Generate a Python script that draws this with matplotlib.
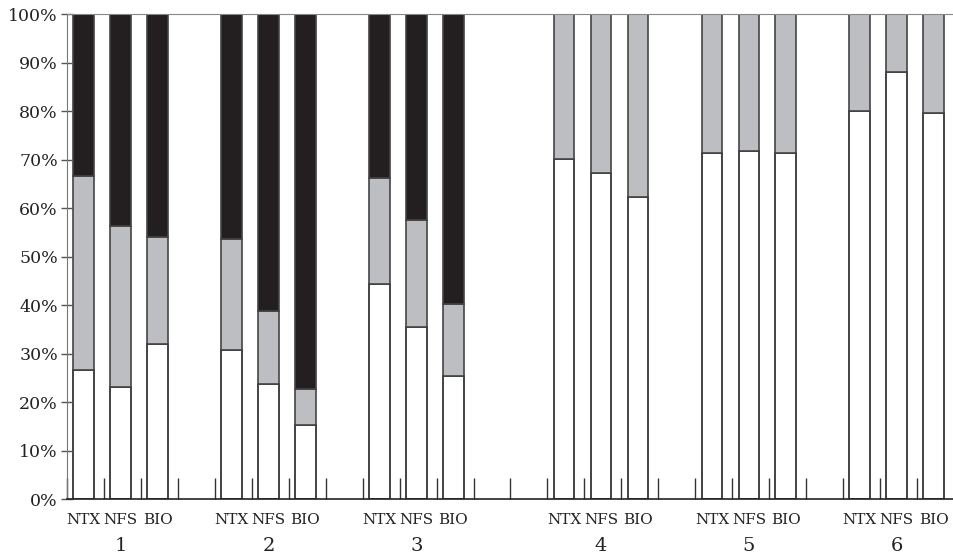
import numpy as np
import matplotlib.pyplot as plt

# share of each segment (%), bottom -> top
groups = ['1', '2', '3', '4', '5', '6']
methods = ['NTX', 'NFS', 'BIO']
white = [26.7, 23.1, 31.9,
         30.8, 23.7, 15.3,
         44.4, 35.4, 25.4,
         70.1, 67.2, 62.4,
         71.5, 71.9, 71.5,
         80.1, 88.2, 79.7]
gray = [40.0, 33.2, 22.2,
        22.8, 15.1, 7.5,
        21.8, 22.2, 14.8,
        29.9, 32.8, 37.6,
        28.5, 28.1, 28.5,
        19.9, 11.8, 20.3]
black = [100 - w - g for w, g in zip(white, gray)]

# slot index of the first bar of each group (one empty slot between groups, two before group 4)
group_start = [0, 4, 8, 13, 17, 21]
n_slots = 24

x = np.array([s + i for s in group_start for i in range(3)]) + 0.45
width = 0.56

plt.rcParams['font.family'] = ['DejaVu Serif']
fig = plt.figure(figsize=(9.54, 5.59), dpi=100)
ax = fig.add_axes([67 / 954, 60 / 559, 1 - 67 / 954, (499.3 - 14.7) / 559])

ax.bar(x, white, width, color='white', edgecolor='#222222', linewidth=1.2)
ax.bar(x, gray, width, bottom=white, color='#bdbec2', edgecolor='#444444', linewidth=1.2)
ax.bar(x, black, width, bottom=np.array(white) + np.array(gray),
       color='#231f20', edgecolor='#444444', linewidth=1.2)

ax.set_xlim(0, n_slots)
ax.set_ylim(0, 100)
ax.set_yticks(np.arange(0, 101, 10))
ax.set_yticklabels([f'{v}%' for v in range(0, 101, 10)], fontsize=12.5, color='#222222')
ax.tick_params(axis='y', direction='inout', length=9, width=1, color='#555555', pad=2)

ax.set_xticks(x)
ax.set_xticklabels(methods * len(groups), fontsize=11, color='#222222')
ax.tick_params(axis='x', length=0, pad=10)
ax.set_xticks(np.arange(0, n_slots + 1), minor=True)
ax.tick_params(axis='x', which='minor', direction='in', length=15, width=1, color='#333333')

for g, s in zip(groups, group_start):
    ax.text(s + 1.45, -0.097, g, transform=ax.get_xaxis_transform(),
            ha='center', va='center', fontsize=14, color='#222222')

ax.spines['right'].set_visible(False)
ax.spines['top'].set_color('#888888')
ax.spines['left'].set_color('#777777')
ax.spines['bottom'].set_color('#222222')
ax.spines['bottom'].set_linewidth(1.2)

fig.savefig('out.png')
